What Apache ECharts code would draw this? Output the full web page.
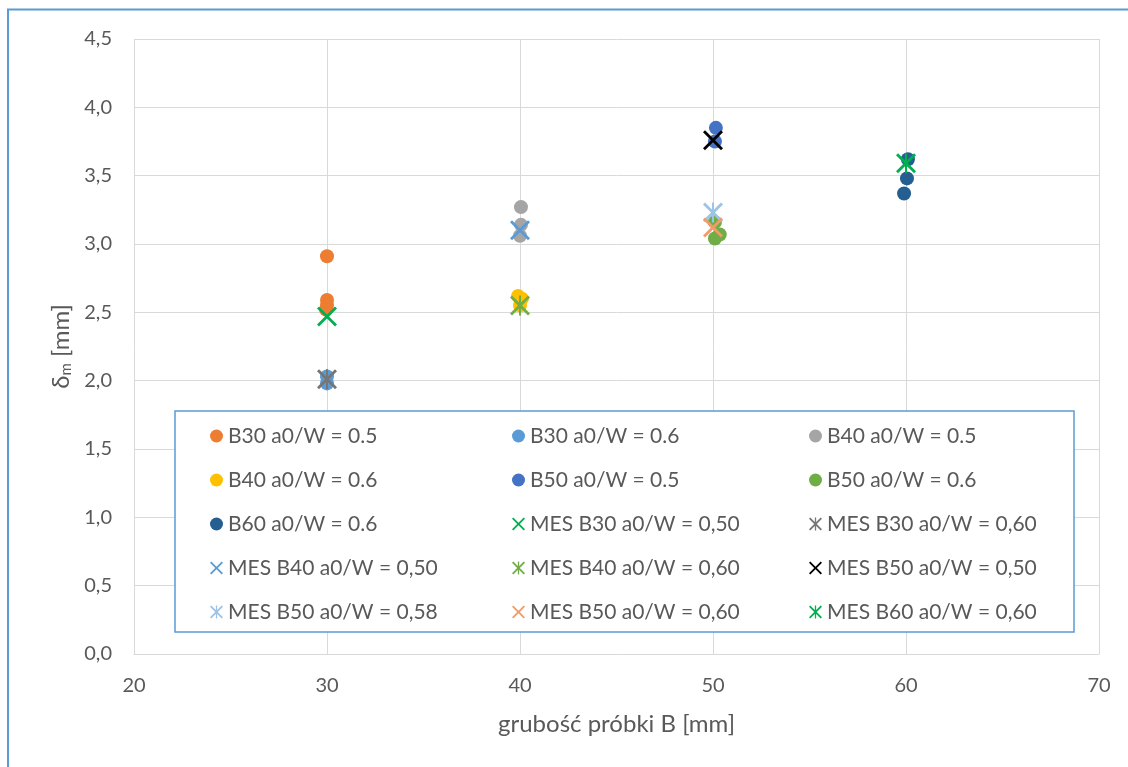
<!DOCTYPE html>
<html><head><meta charset="utf-8">
<script src="https://cdn.jsdelivr.net/npm/echarts@6/dist/echarts.min.js"></script>
<style>html,body{margin:0;padding:0;background:#fff}#c{width:1128px;height:767px}</style>
</head><body><div id="c"></div>
<script>
// ---- data ----
const xTicks = [20, 30, 40, 50, 60, 70];
const yTicks = [0, 0.5, 1, 1.5, 2, 2.5, 3, 3.5, 4, 4.5];
const seriesNames = [
  'B30 a0/W = 0.5', 'B30 a0/W = 0.6', 'B40 a0/W = 0.5',
  'B40 a0/W = 0.6', 'B50 a0/W = 0.5', 'B50 a0/W = 0.6',
  'B60 a0/W = 0.6', 'MES B30 a0/W = 0,50', 'MES B30 a0/W = 0,60',
  'MES B40 a0/W = 0,50', 'MES B40 a0/W = 0,60', 'MES B50 a0/W = 0,50',
  'MES B50 a0/W = 0,58', 'MES B50 a0/W = 0,60', 'MES B60 a0/W = 0,60'
];
const B30_05 = [[30, 2.91], [30, 2.59], [30, 2.55], [29.95, 2.52]];
const B30_06 = [[30, 1.98], [30, 2.03]];
const B40_05 = [[40.05, 3.27], [40.05, 3.14], [40, 3.06]];
const B40_06 = [[39.9, 2.62], [40.1, 2.60], [40, 2.55]];
const B50_05 = [[50.15, 3.85], [50.1, 3.75]];
const B50_06 = [[50.1, 3.16], [50.35, 3.07], [50.1, 3.04]];
const B60_06 = [[60.1, 3.62], [60.05, 3.48], [59.9, 3.37]];
const MES_B30_050 = [[30, 2.47]];
const MES_B30_060 = [[30, 2.01]];
const MES_B40_050 = [[40, 3.10]];
const MES_B40_060 = [[40, 2.55]];
const MES_B50_050 = [[50, 3.76]];
const MES_B50_058 = [[50, 3.23]];
const MES_B50_060 = [[50, 3.12]];
const MES_B60_060 = [[60, 3.59]];
const seriesData = [B30_05, B30_06, B40_05, B40_06, B50_05, B50_06, B60_06,
  MES_B30_050, MES_B30_060, MES_B40_050, MES_B40_060, MES_B50_050, MES_B50_058, MES_B50_060, MES_B60_060];
const colors = ['#ED7D31', '#5B9BD5', '#A5A5A5', '#FFC000', '#4472C4', '#70AD47', '#255E91',
  '#00B050', '#767676', '#5B9BD5', '#70AD47', '#000000', '#9DC3E6', '#F29B69', '#00B050'];
const markers = ['c','c','c','c','c','c','c','x','s','x','s','x','s','x','s'];

// ---- style ----
const t = 10;
const X_PATH = `path://M${t},0L50,${50-t}L${100-t},0L100,${t}L${50+t},50L100,${100-t}L${100-t},100L50,${50+t}L${t},100L0,${100-t}L${50-t},50L0,${t}Z`;
const S_PATH = X_PATH + 'M45,0L55,0L55,100L45,100Z';
const FONT = 'Lato, "Open Sans", sans-serif';
const TXT = '#595959';

const series = seriesNames.map((n, i) => ({
  name: n,
  type: 'scatter',
  data: seriesData[i],
  symbol: markers[i] === 'c' ? 'circle' : (markers[i] === 'x' ? X_PATH : S_PATH),
  symbolSize: markers[i] === 'c' ? 14 : 20,
  itemStyle: { color: colors[i], opacity: 1 },
  z: markers[i] === 'c' ? 2 : 3
}));

const cols = [[0, 3, 6, 9, 12], [1, 4, 7, 10, 13], [2, 5, 8, 11, 14]];
const colLeft = [205, 507, 804];
const legends = cols.map((c, k) => ({
  orient: 'vertical',
  left: colLeft[k],
  top: 420,
  itemWidth: 13,
  itemHeight: 13,
  itemGap: 22,
  z: 10,
  data: c.map(i => seriesNames[i]),
  textStyle: { fontFamily: FONT, fontSize: 21, color: TXT, lineHeight: 22 },
  selectedMode: false
}));

const chart = echarts.init(document.getElementById('c'));
chart.setOption({
  animation: false,
  backgroundColor: '#fff',
  grid: { left: 134, right: 29, top: 39, bottom: 113, containLabel: false },
  xAxis: {
    type: 'value', min: xTicks[0], max: xTicks[xTicks.length - 1], interval: 10,
    axisLine: { show: true, lineStyle: { color: '#d9d9d9', width: 1 } },
    axisTick: { show: false },
    splitLine: { show: true, lineStyle: { color: '#d9d9d9', width: 1 } },
    axisLabel: { fontFamily: FONT, fontSize: 20, color: TXT, margin: 22 },
    name: 'grubość próbki B [mm]', nameLocation: 'middle', nameGap: 58,
    nameTextStyle: { fontFamily: FONT, fontSize: 24, color: TXT }
  },
  yAxis: {
    type: 'value', min: yTicks[0], max: yTicks[yTicks.length - 1], interval: 0.5,
    axisLine: { show: false },
    axisTick: { show: false },
    splitLine: { show: true, lineStyle: { color: '#d9d9d9', width: 1 } },
    axisLabel: { fontFamily: FONT, fontSize: 20, color: TXT, margin: 22,
      formatter: v => v.toFixed(1).replace('.', ',') },
    name: '{a|δ}{b|m}{a| [mm]}', nameLocation: 'middle', nameGap: 60,
    nameTextStyle: { fontFamily: FONT, fontSize: 24, color: TXT,
      rich: { a: { fontFamily: FONT, fontSize: 24, color: TXT }, b: { fontFamily: FONT, fontSize: 15, color: TXT, padding: [10, 0, 0, 0] } } }
  },
  legend: legends,
  graphic: [
    { type: 'rect', z: -10, silent: true, shape: { x: 8, y: 9.5, width: 1300, height: 900 },
      style: { fill: 'none', stroke: '#5B9BD5', lineWidth: 2 } },
    { type: 'rect', z: 5, silent: true, shape: { x: 175, y: 411, width: 899, height: 221 },
      style: { fill: '#fff', stroke: '#5B9BD5', lineWidth: 1.5 } }
  ],
  series: series
});
</script></body></html>
